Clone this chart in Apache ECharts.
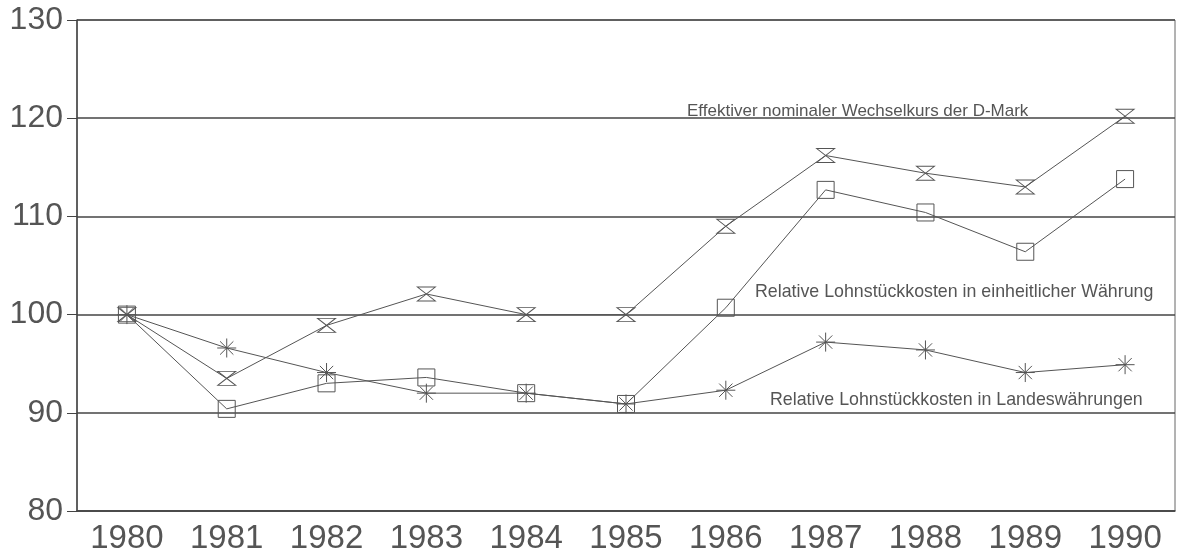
<!DOCTYPE html>
<html>
<head>
<meta charset="utf-8">
<script src="https://cdn.jsdelivr.net/npm/echarts@6/dist/echarts.min.js"></script>
<style>html,body{margin:0;padding:0;background:#fff;}#c{width:1177px;height:555px;}</style>
</head>
<body>
<div id="c"></div>
<script>
const years = ['1980','1981','1982','1983','1984','1985','1986','1987','1988','1989','1990'];
const wechselkurs = [100, 93.5, 98.9, 102.1, 100.0, 100.0, 109.0, 116.2, 114.4, 113.0, 120.2];
const einheitlich = [100, 90.4, 93.0, 93.6, 92.0, 90.9, 100.7, 112.7, 110.4, 106.4, 113.8];
const landes = [100, 96.6, 94.1, 92.0, 92.0, 90.9, 92.3, 97.2, 96.4, 94.1, 94.9];
const yTicks = [80, 90, 100, 110, 120, 130];
const labels = [
  'Effektiver nominaler Wechselkurs der D-Mark',
  'Relative Lohnstückkosten in einheitlicher Währung',
  'Relative Lohnstückkosten in Landeswährungen'
];

const ink = '#555';
const hourglass = 'path://M0,0 L10,0 L0,10 L10,10 Z';
const asterisk = 'path://M0,5 L10,5 M5,0 L5,10 M1.5,1.5 L8.5,8.5 M8.5,1.5 L1.5,8.5';

function ser(name, data, symbol, size) {
  return {
    name: name, type: 'line', data: data,
    symbol: symbol, symbolSize: size, showAllSymbol: true,
    lineStyle: {color: ink, width: 1},
    itemStyle: {color: 'rgba(0,0,0,0)', borderColor: ink, borderWidth: 1},
    emphasis: {disabled: true},
    z: 3
  };
}

const chart = echarts.init(document.getElementById('c'), null, {renderer: 'canvas'});
chart.setOption({
  animation: false,
  backgroundColor: '#fff',
  grid: {left: 77, right: 2, top: 20, bottom: 43, show: true, borderColor: '#666', borderWidth: 1},
  xAxis: {
    type: 'category', data: years, boundaryGap: true,
    axisLine: {lineStyle: {color: '#444', width: 1.5}},
    axisTick: {alignWithLabel: true, length: 8, lineStyle: {color: '#444'}},
    axisLabel: {color: ink, fontSize: 33, fontFamily: 'Liberation Sans, Arial', margin: 11}
  },
  yAxis: {
    type: 'value', min: yTicks[0], max: yTicks[yTicks.length - 1], interval: 10,
    axisLine: {show: true, lineStyle: {color: '#444', width: 1.5}},
    axisTick: {show: true, length: 10, lineStyle: {color: '#444'}},
    axisLabel: {color: ink, fontSize: 32, fontFamily: 'Liberation Sans, Arial', margin: 14},
    splitLine: {show: true, lineStyle: {color: '#444', width: 1.5}}
  },
  graphic: [
    {type: 'text', left: 687, top: 103, style: {text: labels[0], fill: ink, font: '17px Liberation Sans, Arial'}},
    {type: 'text', left: 755, top: 283, style: {text: labels[1], fill: ink, font: '17.8px Liberation Sans, Arial'}},
    {type: 'text', left: 770, top: 391, style: {text: labels[2], fill: ink, font: '17.8px Liberation Sans, Arial'}}
  ],
  series: [
    ser(labels[0], wechselkurs, hourglass, [18, 14]),
    ser(labels[1], einheitlich, 'rect', 17),
    ser(labels[2], landes, asterisk, 19)
  ]
});
</script>
</body>
</html>
